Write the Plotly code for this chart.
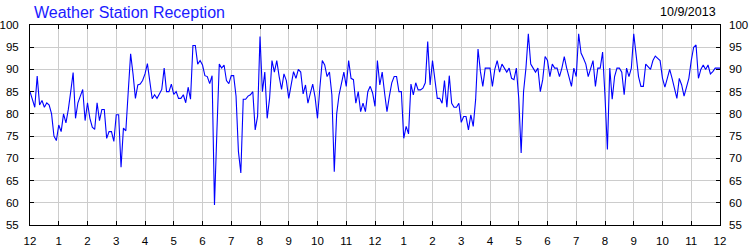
import pandas as pd
import plotly.graph_objects as go

title_text = "Weather Station Reception"
date_text = "10/9/2013"

# Reception (%) sampled every 5 minutes, 10/9/2013 00:00 -> 10/10/2013 00:00
reception_00_06 = [85, 83, 81.5, 88.5, 82, 83, 81.5, 82.5, 82, 80, 75, 74, 77.5, 76, 80, 78, 81, 85, 89.3, 79,
                   82.5, 84, 85.5, 78.5, 82.5, 79, 77, 76.5, 82.5, 78.5, 81, 81, 74.5,
                   76, 76, 73.8, 79.8, 79.8, 68, 76.8, 76.2, 85, 93.5, 89, 83.5, 86.5, 86.7, 87.5, 89, 91.3,
                   87.5, 83.4, 84.3, 83.5, 84.5, 85.5, 90.3, 85, 85, 86.7, 84.4, 85, 83.5, 83.5, 84.3,
                   82.5, 86, 83.3, 95.4, 95.4, 91.2, 92]
reception_06_12 = [91, 88.6, 88.4, 86.8, 88.6, 59.5, 76, 91.2, 90.3, 91, 87.5, 86.8, 88.6,
                   88.6, 84, 71.5, 66.7, 83.3, 83.3, 84, 84.3, 85, 76.4, 79.5, 97.4,
                   85, 89.4, 79, 83.5, 92, 89.4, 92, 88.4, 85.5, 89, 87.5, 83.5, 86.5, 89.5, 88, 90, 89.4,
                   84.5, 86.5, 82.4, 84.6, 86.7, 83.7, 79, 86, 92, 91, 88.4, 89.4, 84.3, 67, 80, 84.3,
                   87, 89.4, 86.2, 92, 88, 87.7, 82.4, 85, 80.5, 82.4, 80.5, 85, 86.2, 84.7, 81.7]
reception_12_18 = [92, 86.5, 89.4, 84.7, 80.5, 84, 87, 88.4, 88.4, 85, 85, 74.5, 77.2, 75.5, 86.7, 84.3, 87,
                   85.4, 85.4, 85.8, 87, 96.3, 86.5, 92, 87.5, 83.5, 83.5, 82.4, 87.5, 81.5, 88.6, 82.4,
                   81.5, 81.5, 82.4, 78.1, 79.4, 79.4, 76.4, 79.8, 77.2, 83.2, 94.6, 89.5, 86.2, 90.3, 90.3,
                   90.3, 86.2,
                   90, 92, 89.4, 91.2, 90.3, 89.4, 90.3, 88, 87.7, 90.3, 83.5, 71.2, 85, 90.3, 98, 91.2,
                   90.3, 89.4, 90.3, 85, 87.7, 92.9, 92, 88.4]
reception_18_24 = [91.2, 90.3, 90.3, 88.4, 90.3, 92.9, 90.3, 88.4,
                   86.2, 90.3, 88.4, 98, 93.7, 92.5, 91.2, 88.4, 90.3, 92, 86.2, 90.3, 90.3, 93.9, 84, 72,
                   90.3, 83.3, 88.4, 90.3, 90.3, 89.4, 84.3, 90.3, 88.4, 90.3, 98, 92.9, 88.4, 86.2, 86.2, 91.2,
                   90.5, 90, 92, 93, 92.5, 92, 88, 86, 88, 90, 88, 86, 83.5, 88, 86.5, 84, 86, 88, 92, 95,
                   95.5, 88, 90, 91, 90, 91, 89, 89.5, 90.3, 90.3, 90.3]

reception = reception_00_06 + reception_06_12 + reception_12_18 + reception_18_24
times = pd.date_range("2013-10-09 00:00", periods=len(reception), freq="5min")

hour_labels = ["12", "1", "2", "3", "4", "5", "6", "7", "8", "9", "10", "11",
               "12", "1", "2", "3", "4", "5", "6", "7", "8", "9", "10", "11", "12"]
hour_ticks = pd.date_range("2013-10-09 00:00", periods=len(hour_labels), freq="1h")
y_ticks = [55, 60, 65, 70, 75, 80, 85, 90, 95, 100]

FONT = "Liberation Sans, Arial, sans-serif"

fig = go.Figure()
fig.add_trace(go.Scatter(x=times, y=reception, mode="lines",
                         line=dict(color="#0000ff", width=1.1), showlegend=False))
# invisible trace on the right axis so it draws its labels
fig.add_trace(go.Scatter(x=times[:1], y=reception[:1], yaxis="y2", mode="lines",
                         line=dict(width=0), showlegend=False, hoverinfo="skip"))

fig.update_layout(
    width=750, height=250,
    margin=dict(l=30, r=30, t=25, b=25, autoexpand=False),
    paper_bgcolor="white", plot_bgcolor="white",
    font=dict(family=FONT, size=11, color="black"),
    xaxis=dict(type="date", range=[hour_ticks[0], hour_ticks[-1]],
               tickvals=list(hour_ticks), ticktext=hour_labels,
               showgrid=True, gridcolor="#cccccc", gridwidth=1,
               showline=True, linecolor="black", linewidth=1, mirror="ticks",
               ticks="inside", ticklen=4, tickcolor="black",
               tickfont=dict(size=11.5, color="black"), zeroline=False,
               ticklabelstandoff=5, automargin=False),
    yaxis=dict(range=[55, 100], tickvals=y_ticks,
               showgrid=True, gridcolor="#cccccc", gridwidth=1,
               showline=True, linecolor="black", linewidth=1, mirror="ticks",
               ticks="inside", ticklen=4, tickcolor="black",
               tickfont=dict(size=11.5, color="black"), zeroline=False,
               ticklabelstandoff=8, automargin=False),
    yaxis2=dict(range=[55, 100], tickvals=y_ticks, overlaying="y", side="right",
                matches="y", showgrid=False, showline=False, ticks="",
                tickfont=dict(size=11.5, color="black"), zeroline=False,
                ticklabelstandoff=8, automargin=False),
    annotations=[
        dict(text=title_text, xref="paper", yref="paper", x=0.003, y=1.065,
             xanchor="left", yanchor="middle", showarrow=False,
             font=dict(family=FONT, size=16, color="#1a1aff")),
        dict(text=date_text, xref="paper", yref="paper", x=0.9971, y=1.065,
             xanchor="right", yanchor="middle", showarrow=False,
             font=dict(family=FONT, size=12.5, color="black")),
    ],
)

fig.write_html("out.html")
